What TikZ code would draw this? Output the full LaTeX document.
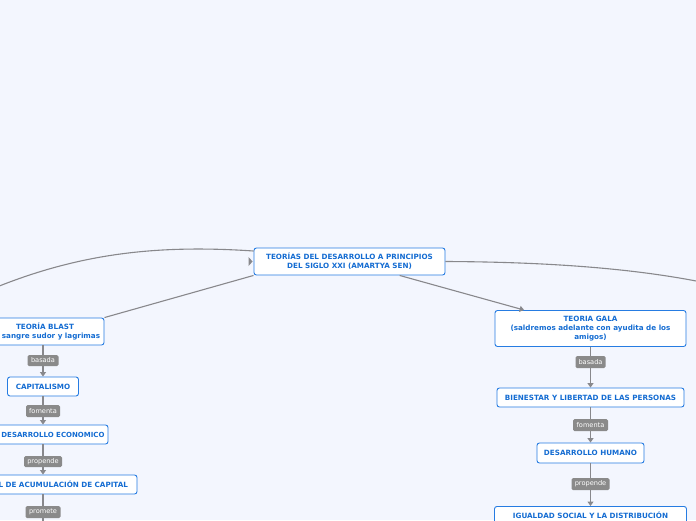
\documentclass[tikz,border=0pt]{standalone}
\usepackage{fontspec}
\setmainfont{DejaVu Sans}
\usetikzlibrary{arrows.meta,calc}
\definecolor{bgcol}{RGB}{243,246,254}
\definecolor{bordercol}{RGB}{38,124,226}
\definecolor{textcol}{RGB}{20,108,210}
\definecolor{conncol}{RGB}{136,136,140}
\definecolor{labcol}{RGB}{138,138,138}
\tikzset{
  topic/.style={draw=bordercol, fill=white, rounded corners=2.5pt, line width=0.9pt,
    text=textcol, font=\bfseries\fontsize{7.2}{9}\selectfont, align=center, inner sep=0pt},
  lab/.style={fill=labcol, rounded corners=1.5pt, text=white,
    font=\fontsize{6.6}{7}\selectfont, inner sep=0pt},
  conn/.style={draw=conncol, line width=1.1pt},
  arr/.style={conn, -{Triangle[width=6pt,length=4.5pt]}}
}
\begin{document}
\begin{tikzpicture}[x=1pt,y=-1pt]
\fill[bgcol] (0,0) rectangle (696,520);
\useasboundingbox (0,0) rectangle (696,520);

% main topic
\node[topic, minimum width=191pt, minimum height=27pt] (central) at (349.5,261.5)
  {TEORÍAS DEL DESARROLLO A PRINCIPIOS\\DEL SIGLO XXI (AMARTYA SEN)};

% left column
\node[topic, minimum width=122pt, minimum height=27pt] (blast) at (43,331.5)
  {\hspace*{4pt}TEORÍA BLAST\\\hspace*{16pt}sangre sudor y lagrimas};
\node[topic, minimum width=71pt, minimum height=19pt] (capit) at (43,386.5) {CAPITALISMO};
\node[topic, minimum width=130pt, minimum height=19pt, font=\bfseries\fontsize{7}{9}\selectfont] (deseco) at (43,434.5)
  {\hspace*{20pt}DESARROLLO ECONOMICO};
\node[topic, text width=170pt, align=right, inner xsep=9pt, minimum height=19pt] (acum) at (43,484.5)
  {L DE ACUMULACIÓN DE CAPITAL};

\node[lab, minimum width=31pt, minimum height=11pt] (l1) at (43,360.5) {basada};
\node[lab, minimum width=34pt, minimum height=12pt] (l2) at (43,411) {fomenta};
\node[lab, minimum width=38pt, minimum height=11pt] (l3) at (43,461.5) {propende};
\node[lab, minimum width=35pt, minimum height=12pt] (l4) at (43,512) {promete};
\coordinate (lend) at (43,530);

% right column
\node[topic, minimum width=191pt, minimum height=36pt] (gala) at (590.5,328.5)
  {TEORIA GALA\\(saldremos adelante con ayudita de los\\amigos)};
\node[topic, minimum width=187pt, minimum height=19pt] (bien) at (590.5,397.5)
  {BIENESTAR Y LIBERTAD DE LAS PERSONAS};
\node[topic, minimum width=107pt, minimum height=20pt] (desh) at (590.5,453) {DESARROLLO HUMANO};
\node[topic, anchor=north, minimum width=192pt, minimum height=30pt, inner ysep=0pt,
  text depth=20pt, text height=12pt] (igual) at (590.5,506)
  {IGUALDAD SOCIAL Y LA DISTRIBUCIÓN};

\node[lab, minimum width=30pt, minimum height=12pt] (r1) at (590.5,362) {basada};
\node[lab, minimum width=35pt, minimum height=12pt] (r2) at (590.5,425) {fomenta};
\node[lab, minimum width=38pt, minimum height=12pt] (r3) at (590.5,484) {propende};

% connectors left column
\draw[conn] (blast) -- (l1);
\draw[arr] (l1) -- (capit);
\draw[conn] (capit) -- (l2);
\draw[arr] (l2) -- (deseco);
\draw[conn] (deseco) -- (l3);
\draw[arr] (l3) -- (acum);
\draw[conn] (acum) -- (l4);
\draw[conn] (l4) -- (lend);

% connectors right column
\draw[conn] (gala) -- (r1);
\draw[arr] (r1) -- (bien);
\draw[conn] (bien) -- (r2);
\draw[arr] (r2) -- (desh);
\draw[conn] (desh) -- (r3);
\draw[arr] (r3) -- (igual);

% connectors from central topic
\draw[arr] (central) -- (gala);
\draw[conn] (central.south west) -- (blast.north east);
\coordinate (lfar) at (-20,294);
\coordinate (rfar) at (720,286);
\draw[conn] (lfar) .. controls (70,255) and (150,244) .. ($(central.west)+(0,-10.5)$);
\draw[conn] (central.east) .. controls (560,262) and (650,270) .. (rfar);
\fill[conncol] ($(central.west)+(-5,-4.5)$) -- ($(central.west)+(-1,0)$) -- ($(central.west)+(-5,4.5)$) -- cycle;
\end{tikzpicture}
\end{document}
